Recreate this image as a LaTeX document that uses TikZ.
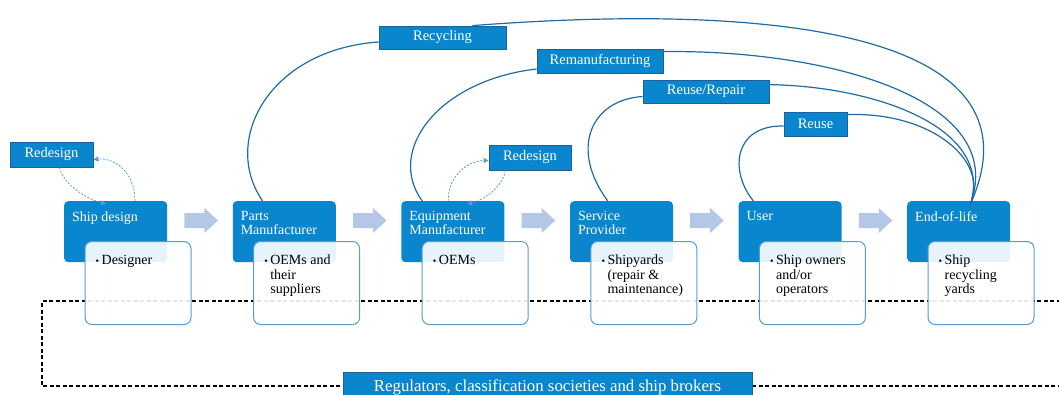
\documentclass[tikz,border=0pt]{standalone}
\usepackage{fontspec}
\setmainfont{Liberation Serif}
\usetikzlibrary{arrows.meta,calc}
\definecolor{stageblue}{HTML}{0A86CE}
\definecolor{tagborder}{HTML}{1B629B}
\definecolor{curveblue}{HTML}{1F6BA6}
\definecolor{boxborder}{HTML}{5B9BD5}
\definecolor{arrowfill}{HTML}{B4C7E7}
\definecolor{dashblue}{HTML}{5B9BD5}
\newcommand\myitem[1]{\makebox[6pt][l]{\fontsize{10}{10}\selectfont •}\parbox[t]{88pt}{#1}}
\tikzset{
  stage/.style={fill=stageblue, rounded corners=4pt, minimum width=103pt, minimum height=61pt, inner sep=0pt, anchor=north west},
  detail/.style={draw=boxborder, line width=1pt, fill=white, fill opacity=0.9, rounded corners=7pt, minimum width=106pt, minimum height=83pt, inner sep=0pt, anchor=north west},
  stagetext/.style={text=white, anchor=north west, inner sep=0pt, align=left, font=\fontsize{14}{13.8}\selectfont},
  detailtext/.style={text=black, anchor=north west, inner sep=0pt, align=left, font=\fontsize{14}{14.3}\selectfont},
  tagbox/.style={fill=stageblue, draw=tagborder, line width=0.8pt, text=white, font=\fontsize{14.5}{15}\selectfont, inner sep=0pt},
  cycleline/.style={draw=curveblue, line width=1.2pt},
  redo/.style={draw=dashblue, line width=0.8pt, dash pattern=on 2pt off 1.5pt, -{Triangle[length=5pt,width=5pt]}},
  flowarrow/.style={fill=arrowfill},
  regframe/.style={draw=black, line width=1.1pt, dash pattern=on 4pt off 2.5pt},
}
\begin{document}
\begin{tikzpicture}[x=1pt,y=-1pt]
\useasboundingbox (0,0) rectangle (1059,394);
\clip (0,0) rectangle (1059,394);
% dashed frame
\draw[regframe] (1080,301) -- (42,301) -- (42,386) -- (1080,386);
% stage boxes
\node[stage] (s1) at (64,201) {};
\node[stage] (s2) at (232.6,201) {};
\node[stage] (s3) at (401.2,201) {};
\node[stage] (s4) at (569.8,201) {};
\node[stage] (s5) at (738.4,201) {};
\node[stage] (s6) at (907,201) {};
\node[stagetext] (t1) at ($(s1.north west)+(8,10.5)$) {Ship design};
\node[stagetext] (t2) at ($(s2.north west)+(8,10.5)$) {Parts\\Manufacturer};
\node[stagetext] (t3) at ($(s3.north west)+(8,10.5)$) {Equipment\\Manufacturer};
\node[stagetext] (t4) at ($(s4.north west)+(8,10.5)$) {Service\\Provider};
\node[stagetext] (t5) at ($(s5.north west)+(8,10.5)$) {User};
\node[stagetext] (t6) at ($(s6.north west)+(8,10.5)$) {End-of-life};
% detail boxes
\foreach \i in {1,...,6}{
  \node[detail] (d\i) at ($(s\i.north west)+(20.5,40)$) {};
}
\node[detailtext] (u1) at ($(d1.north west)+(11,14)$) {\myitem{Designer}};
\node[detailtext] (u2) at ($(d2.north west)+(11,14)$) {\myitem{OEMs and\\their\\suppliers}};
\node[detailtext] (u3) at ($(d3.north west)+(11,14)$) {\myitem{OEMs}};
\node[detailtext] (u4) at ($(d4.north west)+(11,14)$) {\myitem{Shipyards\\(repair \&\\maintenance)}};
\node[detailtext] (u5) at ($(d5.north west)+(11,14)$) {\myitem{Ship owners\\and/or\\operators}};
\node[detailtext] (u6) at ($(d6.north west)+(11,14)$) {\myitem{Ship\\recycling\\yards}};
% flow arrows
\foreach \i/\j in {1/2,2/3,3/4,4/5,5/6}{
  \fill[flowarrow] ($(s\i.north east)+(17,12)$) -- ++(20,0) -- ++(0,-5) -- ++(13.5,12.5) -- ++(-13.5,12.5) -- ++(0,-5) -- ++(-20,0) -- cycle;
}
% tags
\node[tagbox, minimum width=127pt, minimum height=23pt] (rec) at (442.5,37.5) {Recycling};
\node[tagbox, minimum width=126pt, minimum height=24pt] (reman) at (600,61) {Remanufacturing};
\node[tagbox, minimum width=126pt, minimum height=23pt] (reuserep) at (706,91.5) {Reuse/Repair};
\node[tagbox, minimum width=63pt, minimum height=24pt] (reuse) at (815.5,124) {Reuse};
\node[tagbox, minimum width=83pt, minimum height=25pt] (rd1) at (51.5,154.5) {Redesign};
\node[tagbox, minimum width=82pt, minimum height=25pt] (rd2) at (530,157.5) {Redesign};
\node[tagbox, minimum width=409pt, minimum height=30pt, font=\fontsize{16.8}{17}\selectfont] (reg) at (547.5,387.5) {Regulators, classification societies and ship brokers};
% loop curves
\draw[cycleline] ([xshift=30pt]s2.north west) .. controls +(-42,-61) and +(-109,7.5) .. ([yshift=-4.5pt]rec.west);
\draw[cycleline] ([xshift=-34pt]rec.north east) .. controls +(327,-25) and +(75,-165) .. ([xshift=63pt,yshift=-4pt]s6.north west);
\draw[cycleline] ([xshift=21pt]s3.north west) .. controls +(-37,-51) and +(-97,11) .. ([yshift=-8pt]reman.west);
\draw[cycleline] ([yshift=-3pt]reman.north east) .. controls +(167,-2) and +(40,-105) .. ([xshift=63pt,yshift=-4pt]s6.north west);
\draw[cycleline] ([xshift=38pt]s4.north west) .. controls +(-38,-51) and +(-53,3.5) .. ([yshift=-5pt]reuserep.west);
\draw[cycleline] ([yshift=-5pt]reuserep.north east) .. controls +(111,2) and +(25,-75) .. ([xshift=63pt,yshift=-4pt]s6.north west);
\draw[cycleline] ([xshift=15pt]s5.north west) .. controls +(-25,-31) and +(-49,-1) .. ([yshift=-2pt]reuse.west);
\draw[cycleline] ([yshift=-3pt]reuse.north east) .. controls +(83,-3) and +(20,-45) .. ([xshift=63pt,yshift=-4pt]s6.north west);
% redesign dashed arrows
\draw[redo] ([xshift=71pt]s1.north west) .. controls +(0,-30) and +(20,-2) .. ([yshift=-5pt]rd1.east);
\draw[redo] ([xshift=-34pt]rd1.south east) .. controls +(6,22) and +(-12,-3) .. ([xshift=42pt,yshift=-3pt]s1.north west);
\draw[redo] ([xshift=47pt]s3.north west) .. controls +(0,-28) and +(-18,0) .. ([yshift=-3pt]rd2.west);
\draw[redo] ([xshift=-66pt]rd2.south east) .. controls +(-3,18) and +(14,-3) .. ([xshift=66pt,yshift=-3pt]s3.north west);
\end{tikzpicture}
\end{document}
